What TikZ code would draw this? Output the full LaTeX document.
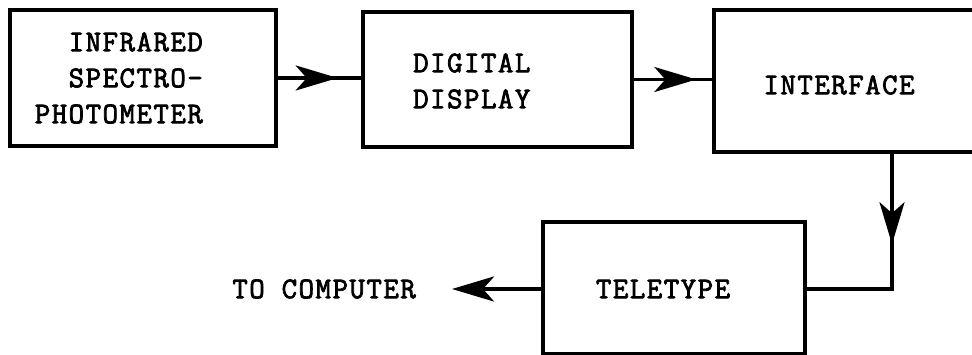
\documentclass[tikz,border=0pt]{standalone}
\usepackage{fontspec}
\newfontfamily\tw{Latin Modern Mono}[LetterSpace=5,FakeBold=2.5]
\usetikzlibrary{arrows.meta,decorations.markings}
\tikzset{
  box/.style={draw, line width=4.2pt, inner sep=0pt},
  lbl/.style={font=\tw\fontsize{30}{36}\selectfont, inner sep=0pt},
  conn/.style={line width=3.6pt},
  tipshape/.tip={Stealth[length=42pt,width=25pt,inset=11pt]},
  midarrow/.style={postaction={decorate}, decoration={markings,
      mark=at position #1 with {\arrow{tipshape}}}},
}
\begin{document}
\begin{tikzpicture}[x=1pt,y=-1pt]
\useasboundingbox (0,0) rectangle (972,355);
\clip (0,0) rectangle (972,355);
% boxes
\node[box, minimum width=266pt, minimum height=136pt] (b1) at (143,78) {};
\node[box, minimum width=269pt, minimum height=135pt] (b2) at (497.5,79.5) {};
\node[box, minimum width=271pt, minimum height=142pt] (b3) at (849.5,81) {};
\node[box, minimum width=262pt, minimum height=132pt] (b4) at (674,288) {};
% labels
\node[lbl, align=right, anchor=east] (t1) at (203,78) {INFRARED\\SPECTRO-\\PHOTOMETER};
\node[lbl, align=left, anchor=west] (t2) at (413,81) {DIGITAL\\DISPLAY};
\node[lbl] (t3) at (839,85) {INTERFACE};
\node[lbl] (t4) at (663,289) {TELETYPE};
\node[lbl, anchor=east] (t5) at (416,289) {TO COMPUTER};
% connectors
\coordinate (bend) at (892,289);
\coordinate (out) at (452,289);
\draw[conn, midarrow=0.72] (b1.east) -- (b1.east -| b2.west);
\draw[conn, midarrow=0.80] (b2.east) -- (b2.east -| b3.west);
\draw[conn, midarrow=0.41] (b3.south -| bend) -- (bend) -- (bend -| b4.east);
\draw[conn, -{tipshape}] (b4.west |- out) -- (out);
\end{tikzpicture}
\end{document}
